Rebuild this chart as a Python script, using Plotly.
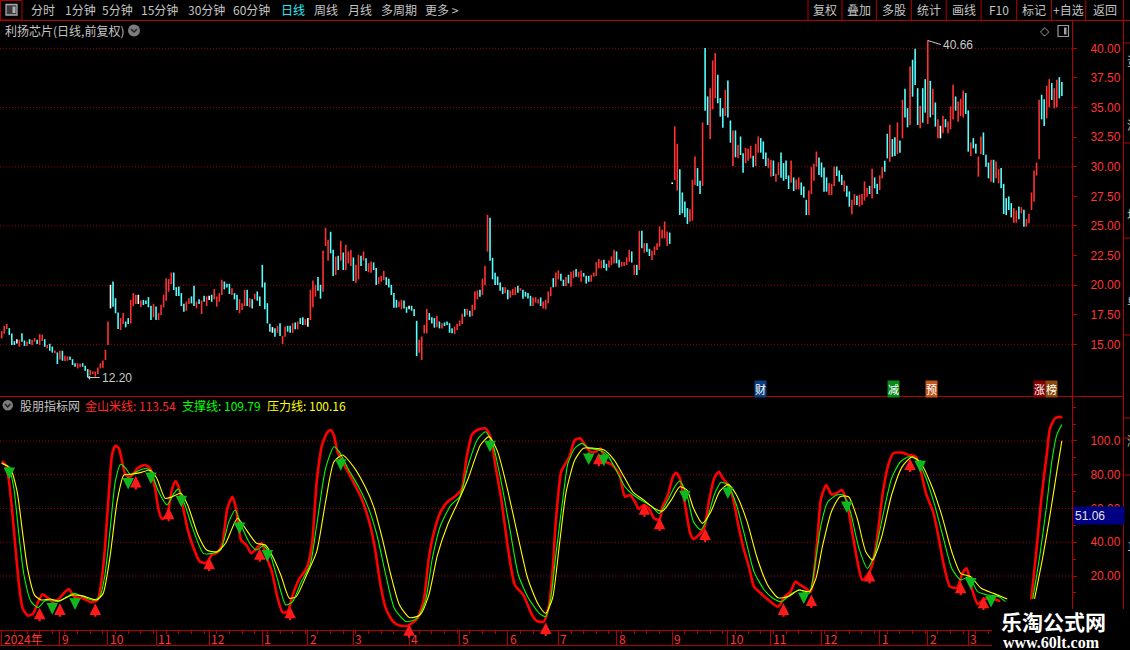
import plotly.graph_objects as go

W, H = 1130, 650

# daily bars of 利扬芯片: low, high and colour (u up / d down / w flat)
bar_lo = [
    15.5, 15.9, 16.3, 15.8, 14.95, 14.95, 15.08, 14.8, 15.23, 14.86,
    14.86, 15.03, 14.94, 15.23, 15.03, 14.94, 15.28, 14.8, 14.66, 14.46,
    14.3, 14.24, 13.34, 13.73, 13.62, 13.59, 13.62, 13.68, 13.26, 13.11,
    12.97, 13.06, 13.11, 12.78, 12.2, 12.41, 12.5, 12.27, 12.5, 12.97,
    13.03, 13.68, 14.94, 18.04, 18.18, 17.62, 16.3, 16.21, 16.72, 16.44,
    16.72, 16.77, 18.24, 18.41, 18.41, 18.13, 18.32, 18.41, 18.13, 17.05,
    17.28, 17.05, 17.05, 17.48, 18.13, 18.69, 19.45, 20.1, 19.59, 19.08,
    19.08, 18.24, 17.76, 17.84, 18.41, 18.46, 18.24, 18.04, 18.41, 17.56,
    18.6, 18.24, 18.74, 18.6, 18.8, 18.18, 18.6, 19.17, 19.65, 19.81,
    19.25, 19.17, 18.8, 17.9, 17.62, 17.9, 18.24, 18.24, 18.13, 18.04,
    18.8, 18.69, 18.24, 19.81, 17.96, 16.77,
    16.07, 15.98, 15.65, 15.98, 15.7, 15.03, 15.65, 16.07, 15.98, 15.98,
    16.27, 16.27, 16.72, 16.63, 16.63, 16.49, 17.05, 18.13, 19.03, 19.53,
    18.86, 19.45, 23.31, 22.07, 22.69, 20.77, 20.86, 21.28, 22.07, 21.28,
    21.28, 21.84, 21.62, 20.35, 20.21, 20.49, 21.62, 22.07, 21.19, 21.08,
    21.05, 21.28, 20.01, 20.1, 20.29, 20.43, 20.01, 19.81, 19.17, 18.1,
    18.1, 18.13, 17.96, 18.04, 17.67, 17.96, 17.84, 17.39, 14.01, 14.3,
    13.68, 15.93, 15.93, 17.05, 16.77, 16.41, 16.44, 16.35, 16.35, 16.55,
    16.63, 15.98, 15.93, 15.87, 16.21, 16.55, 16.72, 17.34, 17.48, 17.34,
    17.39, 17.9, 18.8, 19.03, 19.17, 20.01, 22.83, 22.07, 20.49, 20.01,
    20.01, 19.53, 19.25, 19.31, 18.8, 18.94, 19.17, 19.17, 19.36, 19.53,
    18.86, 19.03, 18.88, 18.24, 18.24, 18.52, 18.46,
    18.24, 18.04, 17.96, 18.46, 19.08, 19.82, 19.87, 20.49, 20.38, 19.93,
    19.93, 20.15, 19.87, 20.58, 20.72, 20.66, 20.29, 20.72, 20.15, 20.29,
    20.29, 20.72, 20.77, 21.42, 21.42, 21.45, 21.22, 21.5, 21.7, 21.84,
    21.84, 21.5, 21.56, 21.62, 21.7, 21.98, 21.9, 20.86, 20.86, 21.28,
    23.11, 22.74, 22.83, 22.46, 22.12, 22.55, 22.97, 23.25, 23.95, 23.95,
    23.31, 23.48, 28.54, 28.88, 27.98, 25.92, 26.07, 25.73, 25.17, 25.36,
    25.45, 28.46, 28.37, 27.7, 28.37, 34.74, 33.53, 32.34, 34.85, 35.78,
    35.36, 34.23, 33.3, 34.29, 34.17, 32.03, 30.06, 30.8, 30.71, 30.99,
    29.5, 30.29, 30.51, 30.71, 29.95, 30.06, 31.19, 31.19, 30.65, 30.06,
    29.87, 29.16, 29.22, 28.74, 29.3, 29.08, 28.82, 28.97, 28.12, 28.66,
    27.95, 28.09, 28.09, 27.61, 27.39, 25.92, 25.92,
    27.7, 28.82, 30.0, 29.3, 29.11, 27.9, 27.9, 27.61, 27.61, 28.37,
    29.22, 28.74, 28.46, 27.9, 27.47, 26.63, 25.98, 26.77, 26.77, 26.63,
    26.77, 27.14, 27.47, 27.7, 27.33, 28.18, 27.7, 28.04, 29.02, 29.58,
    30.71, 30.43, 30.85, 30.91, 31.08, 31.19, 32.4, 34.17, 33.33, 33.53,
    35.92, 36.9, 33.53, 33.25, 33.72, 34.57, 33.61, 34.17, 34.37, 33.39,
    32.4, 32.4, 32.82, 33.33, 32.82, 33.16, 34.0, 34.74, 33.81, 34.29,
    34.17, 34.46, 31.27, 30.91, 31.56, 31.13, 29.16, 31.08, 30.99, 30.0,
    29.02, 28.74, 28.66, 29.02, 28.6, 28.18, 26.01, 25.92, 26.35, 25.73,
    25.28, 25.28, 25.56, 26.07, 24.94, 24.94, 25.22, 26.35, 27.05, 29.25,
    30.63, 34.0, 33.44, 34.09, 35.02, 35.64, 34.93, 35.02, 35.78, 35.97,
]
bar_hi = [
    16.1, 16.55, 16.7, 16.35, 15.9, 15.25, 15.42, 15.37, 15.93, 15.31,
    15.23, 15.42, 15.37, 15.51, 15.37, 15.84, 15.79, 15.42, 14.94, 15.03,
    14.8, 14.46, 14.3, 14.44, 14.44, 14.01, 13.96, 13.96, 13.73, 13.39,
    13.39, 13.34, 13.39, 13.17, 12.89, 12.83, 12.69, 12.69, 13.03, 13.39,
    13.62, 14.52, 16.91, 20.01, 20.29, 18.88, 17.67, 17.2, 17.62, 16.91,
    17.2, 18.74, 19.31, 19.17, 19.17, 18.69, 18.74, 18.69, 18.97, 18.24,
    18.41, 18.18, 17.62, 18.32, 19.17, 20.57, 20.49, 21.05, 21.05, 19.81,
    19.87, 19.31, 18.41, 18.6, 18.88, 19.03, 19.93, 18.6, 18.8, 18.69,
    19.08, 19.03, 19.08, 19.17, 19.65, 19.03, 19.31, 20.43, 20.29, 20.1,
    20.1, 19.73, 19.31, 19.17, 18.8, 18.46, 19.59, 19.59, 18.88, 18.8,
    19.25, 19.45, 19.03, 21.7, 20.21, 18.46,
    16.72, 16.44, 16.35, 16.55, 16.77, 15.7, 16.49, 16.55, 16.55, 16.77,
    16.83, 16.91, 17.2, 17.28, 17.11, 17.2, 19.59, 20.38, 20.01, 20.66,
    20.01, 22.91, 24.83, 23.81, 24.49, 22.97, 22.4, 22.46, 23.73, 22.74,
    23.39, 22.83, 22.97, 22.32, 21.7, 22.54, 22.46, 22.83, 22.26, 21.84,
    21.98, 21.9, 21.42, 20.66, 20.77, 21.19, 20.66, 20.52, 20.01, 19.31,
    18.74, 18.6, 18.74, 18.69, 18.13, 18.24, 18.24, 17.96, 16.97, 15.37,
    15.65, 16.63, 17.98, 17.62, 17.28, 17.2, 17.39, 16.91, 16.77, 16.83,
    16.91, 16.77, 16.35, 16.49, 16.72, 17.0, 17.56, 17.98, 17.98, 17.81,
    18.32, 19.45, 19.53, 19.59, 20.52, 21.62, 25.92, 25.67, 22.29, 21.02,
    20.71, 20.21, 19.81, 19.81, 19.59, 19.53, 19.65, 19.81, 19.93, 19.73,
    19.59, 19.42, 19.31, 19.08, 18.94, 18.97, 18.8,
    18.94, 18.6, 18.75, 19.45, 19.82, 20.58, 21.05, 21.22, 20.94, 20.44,
    20.66, 20.86, 21.11, 21.22, 21.34, 21.11, 21.22, 21.0, 20.77, 20.77,
    20.86, 21.05, 21.93, 22.18, 22.07, 22.12, 21.79, 22.07, 22.41, 22.97,
    22.83, 22.12, 21.96, 21.93, 22.32, 22.97, 22.83, 21.7, 21.7, 24.57,
    24.57, 23.53, 23.53, 23.05, 22.88, 23.25, 23.53, 24.94, 24.66, 25.36,
    24.52, 24.43, 28.66, 33.39, 31.92, 29.78, 27.81, 27.05, 26.49, 26.4,
    28.88, 30.85, 29.87, 28.8, 33.72, 40.0, 35.92, 36.62, 38.96, 39.58,
    37.75, 35.78, 34.93, 36.48, 37.27, 33.89, 33.05, 33.05, 31.84, 32.54,
    31.13, 31.56, 31.5, 31.75, 30.91, 31.92, 32.54, 32.4, 32.12, 31.19,
    30.71, 30.57, 30.51, 29.39, 30.35, 31.19, 30.29, 30.51, 29.25, 30.51,
    29.08, 28.88, 29.08, 28.66, 28.32, 27.19, 27.98,
    29.95, 30.23, 31.27, 30.77, 30.34, 29.92, 29.08, 28.6, 28.54, 30.0,
    30.0, 29.67, 29.3, 28.82, 28.37, 27.9, 27.19, 27.67, 27.53, 27.61,
    27.67, 28.74, 28.18, 28.37, 29.81, 29.08, 28.54, 29.25, 29.95, 30.49,
    32.77, 33.53, 32.32, 32.48, 33.72, 32.2, 35.64, 36.57, 34.93, 38.45,
    39.02, 39.95, 36.62, 35.13, 36.62, 37.38, 40.66, 37.24, 36.57, 35.41,
    34.0, 33.44, 34.29, 34.0, 33.81, 35.07, 36.9, 35.92, 35.5, 35.72,
    36.43, 36.2, 34.74, 32.03, 32.4, 31.92, 30.85, 32.54, 32.88, 30.99,
    30.34, 30.57, 30.57, 30.43, 29.78, 29.87, 28.54, 27.33, 27.47, 26.91,
    26.49, 26.29, 26.63, 26.57, 26.35, 25.56, 26.01, 27.81, 29.67, 30.34,
    35.64, 36.06, 35.69, 36.82, 37.38, 37.05, 36.62, 37.33, 37.55, 37.13,
]
bar_dir = (
    "uuudddwudd" "uduuduudud" "dududuuddd" "uuddduuuuu" "uuuwddduud"
    "duuuwudddd" "uduuuuuudd" "ddduuddudu" "duwduuuudd" "dudduuudud" "uddddd"
    "dwduduuddu" "dudduwuuud" "duuuddudud" "uuuduududu" "udduuudddd"
    "duuddwdddu" "uuudddudud" "ddduuuudud" "uuuduuuddd" "ddduduuudu" "dddduuu"
    "duuuuduudd" "uduuduuddd" "uuuuudduuu" "dduuuududu" "dudduuuuuu"
    "udwuuddddu" "uuddudduuu" "ddduddudud" "duuuduuddd" "uuduuddddu" "duudddu"
    "uuudddduuu" "dddudduudu" "uuududduud" "duddududdu" "ddduddudud"
    "uwuduuuduu" "uddudduudd" "duduuddddd" "uududuuuuu" "udduuduudd"
)
assert len(bar_lo) == len(bar_hi) == len(bar_dir)

price_ticks = [15, 17.5, 20, 22.5, 25, 27.5, 30, 32.5, 35, 37.5, 40]
price_grid = [15, 20, 25, 30, 35, 40]

# month boundaries on the bar index
month_idx = [0, 23, 42, 61, 82, 103, 121, 139, 161, 181, 200, 220, 243, 265, 287, 304, 324, 347, 366, 382]
month_txt = ["2024年", "9", "10", "11", "12", "1", "2", "3", "4", "5", "6", "7", "8", "9", "10", "11", "12", "1", "2", "3"]

# indicator lines (bar index, value)
jsm_pts = [
    (0, 88), (1.6, 85.8), (2.9, 75.9), (4.3, 56), (5.7, 32.4), (7.0, 12.7), (8.3, 0.8), (10.4, -3.5),
    (12.5, -2.1), (14.4, 4.8), (16.1, 9.1), (18.1, 7.2), (20.1, 4.8), (22.1, 5.8), (24.5, 9.7), (26.5, 12.3),
    (28.6, 7.8), (32.0, 6.8), (35.4, 4.4), (37.9, 5.8), (39.4, 16.6), (40.8, 36.4), (42.2, 66), (43.6, 91.7),
    (44.9, 97.2), (46.3, 95.7), (47.6, 87.7), (49.0, 79.8), (51.0, 78.9), (53.7, 83.8), (56.5, 85.8), (58.6, 83.8),
    (60.6, 72), (62.0, 59.1), (63.3, 53.8), (65.3, 56.1), (67.4, 72), (68.7, 76.3), (70.1, 72), (71.5, 62.1),
    (73.4, 48.2), (75.4, 38.4), (78.3, 28.5), (81.0, 27.9), (83.0, 32.4), (85.1, 33.8), (87.1, 38.4), (89.2, 60.1),
    (91.2, 67), (92.6, 60.1), (94.6, 41.3), (96.7, 38.4), (98.7, 33.4), (100.7, 36.4), (102.8, 39.4), (104.8, 30.5),
    (106.8, 22.6), (108.9, 7.8), (111.0, -1.5), (113.0, -1.1), (115.0, 8.7), (117.7, 18.6), (120.5, 24.5),
    (122.6, 38.4), (124.5, 75.9), (126.6, 97.6), (128.7, 105.1), (130.0, 106.5), (131.3, 103.2), (132.7, 93.7),
    (134.7, 87.7), (136.8, 81.8), (138.9, 75.9), (142.2, 66), (145.6, 50.2), (147.5, 36.4), (149.7, 14.7),
    (151.8, 0.8), (154.5, -6.7), (157.2, -9.4), (160.6, -9.4), (164.1, -5.5), (166.7, 4.8), (168.8, 30.5),
    (170.9, 46.3), (173.5, 58.1), (176.2, 64), (179.0, 67), (181.7, 71), (183.7, 89.7), (185.8, 103.6),
    (187.9, 106.5), (191.2, 107.5), (193.3, 101.6), (195.3, 83.8), (197.4, 66), (200.1, 36.4), (202.8, 14.7),
    (206.2, 8.7), (209.6, -3.1), (211.6, -6.7), (214.2, -7.1), (216.3, 2.8), (217.7, 22.6), (219.0, 52.2),
    (221.1, 81.8), (222.5, 85.8), (224.4, 90.7), (226.5, 100.6), (228.6, 101.6), (230.6, 97.6), (232.6, 93.7),
    (234.7, 93.7), (236.7, 95.6), (238.8, 87.7), (241.4, 85.8), (244.2, 79.9), (246.3, 67), (248.3, 68),
    (250.3, 64), (251.7, 59.7), (253.8, 62.1), (255.8, 60.1), (257.8, 54.2), (259.9, 53.2), (261.2, 61.1),
    (263.3, 68), (265.3, 78.9), (266.6, 81.2), (268.0, 77.9), (270.1, 62.1), (272.1, 45.3), (273.4, 41.9),
    (275.5, 44.3), (277.6, 48.2), (279.6, 65), (281.6, 77.9), (283.4, 81.8), (285.0, 77.9), (287.1, 73.9),
    (289.2, 65), (291.1, 50.2), (293.2, 36.4), (295.3, 25.5), (297.3, 13.7), (299.3, 10.7), (301.4, 7.8),
    (304.1, 4.4), (306.8, 1.8), (309.5, 7.8), (311.6, 10.3), (313.7, 16.6), (315.6, 14.7), (317.7, 12.7),
    (319.8, 10.7), (321.1, 22.6), (322.5, 44.3), (323.8, 66), (325.9, 73.9), (327.9, 68.4), (330.0, 69),
    (332.0, 71), (334.0, 64), (336.1, 46.3), (338.1, 29.5), (340.1, 17.6), (342.2, 20.6), (343.6, 24.5),
    (345.6, 38.4), (348.3, 70), (350.4, 85.8), (352.4, 92.7), (355.9, 93.1), (358.5, 91.7), (361.3, 90.7),
    (363.3, 81.8), (365.3, 69), (368.1, 58.1), (370.1, 44.3), (372.2, 27.5), (374.8, 13.7), (377.6, 13.1),
    (379.7, 21.6), (381.4, 24.5), (383.0, 14.7), (384.4, 7.8), (385.7, 3.4), (388.5, 6.5), (391.6, 6.5),
    (394.6, 5), (None, None), (406.9, 6.2), (408.9, 34.4), (410.9, 66), (413.0, 91.7), (414.3, 107.5),
    (416.3, 113.4), (418.4, 114.4), (419, 113.54),
]
zc_pts = [
    (0, 86.8), (2.7, 84.8), (4.8, 72), (6.8, 44.3), (8.8, 20.6), (11.6, 4.8), (14.3, 1.3), (17.0, 5.2),
    (19.8, 5.8), (22.4, 4.8), (25.9, 7.8), (28.6, 9.7), (32.0, 7.8), (36.1, 5.6), (38.8, 7.8), (40.8, 20.6),
    (42.9, 48.2), (44.9, 75.9), (47.0, 86.2), (49.0, 83.8), (51.0, 79.9), (53.8, 82.2), (57.1, 83.8),
    (59.2, 80.8), (62.0, 70), (65.3, 62.1), (68.1, 69), (69.8, 71.6), (72.2, 63.1), (75.5, 48.2), (79.7, 33.4),
    (83.0, 33.4), (86.5, 35.4), (89.8, 52.2), (92.3, 59.1), (94.6, 50.2), (98.0, 39.4), (100.7, 35.4),
    (103.5, 38), (106.2, 32.4), (108.9, 18.6), (112.3, 2.8), (115.0, 4.8), (118.4, 16.6), (121.9, 26.5),
    (124.5, 50.2), (128.0, 83.8), (131.3, 96.6), (133.4, 93.7), (136.8, 83.8), (141.0, 73), (145.0, 60.1),
    (148.3, 44.3), (151.8, 20.6), (155.2, 0.8), (159.9, -7.1), (164.1, -5.1), (167.4, 4.8), (170.2, 30.5),
    (173.5, 50.2), (177.6, 62.1), (181.0, 67), (184.4, 85.8), (187.9, 100.6), (191.2, 105.5), (194.0, 98.6),
    (197.4, 75.9), (200.8, 48.2), (204.2, 20.6), (208.2, 6.8), (212.4, -2), (215.0, -4.1), (217.0, 6.8),
    (219.0, 32.4), (221.8, 66), (223.8, 86.8), (226.5, 95.7), (229.3, 98.6), (232.0, 95.7), (236.0, 94.7),
    (239.4, 91.7), (242.8, 82.8), (246.3, 72.9), (249.6, 68), (253.8, 64), (257.1, 61.1), (259.9, 57.1),
    (263.3, 65), (266.0, 72.9), (268.0, 76.3), (270.8, 68), (273.4, 52.2), (276.2, 47.3), (278.9, 54.2),
    (281.6, 68), (284.3, 75.5), (287.1, 73.9), (290.4, 62.1), (293.9, 42.3), (297.3, 22.6), (301.4, 11.7),
    (304.8, 6.8), (308.2, 4.8), (312.3, 9.7), (315.6, 11.7), (319.1, 9.7), (321.8, 30.5), (323.8, 50.2),
    (326.5, 64), (330.0, 68), (332.6, 68), (335.4, 58.1), (338.8, 36.4), (342.2, 24.5), (344.9, 32.4),
    (348.3, 56.1), (351.7, 77.9), (355.2, 87.7), (358.5, 90.7), (362.0, 88.7), (365.3, 77.9), (368.7, 62.1),
    (372.2, 42.3), (375.5, 24.5), (379.0, 17.6), (382.3, 19.6), (385.7, 10.7), (389.8, 8.7), (393.9, 7.8),
    (396.7, 4.8), (None, None), (407.5, 6.4), (410.3, 32.4), (413.0, 62.1), (415.0, 87.7), (417.0, 103.6),
    (419, 109.79),
]
ylx_pts = [
    (0, 86.8), (3.4, 83.8), (6.1, 70), (8.2, 46.3), (10.2, 24.5), (13.0, 8.7), (15.6, 5.8), (19.1, 6.4),
    (22.4, 5.2), (27.9, 8.7), (32.0, 8.2), (37.5, 5.8), (40.1, 9.7), (42.9, 32.4), (45.6, 64), (48.3, 79.9),
    (51.0, 80.3), (55.2, 81.4), (58.5, 82.8), (61.3, 77.9), (64.6, 66), (67.4, 67), (70.8, 69), (73.5, 62.1),
    (77.6, 44.3), (81.0, 35.4), (85.1, 34.4), (88.5, 39.4), (93.2, 54.2), (96.7, 47.3), (100.7, 39.4),
    (104.2, 38.4), (106.8, 32.4), (110.3, 20.6), (113.7, 6.8), (116.4, 7.8), (120.5, 20.6), (124.5, 34.4),
    (128.0, 64), (131.3, 87.7), (134.7, 91.7), (139.5, 83.8), (143.6, 73), (147.0, 61.1), (150.4, 42.3),
    (153.8, 20.6), (157.2, 2.8), (161.3, -4.7), (165.3, -3.1), (168.8, 8.7), (172.2, 32.4), (176.2, 50.2),
    (180.4, 64), (184.4, 77.9), (189.2, 97.6), (192.6, 102.6), (196.0, 93.7), (200.1, 70), (204.2, 42.3),
    (207.5, 20.6), (208.8, 14.7), (212.2, 2.8), (215.0, -2.1), (217.7, 6.8), (220.4, 38.4), (223.1, 70),
    (226.5, 88.7), (229.9, 95.7), (234.0, 95.7), (238.1, 94.7), (242.1, 88.7), (246.3, 77.9), (249.6, 69.6),
    (253.8, 65), (257.8, 60.1), (261.2, 58.5), (264.6, 65), (268.0, 72.9), (270.8, 71), (273.4, 60.1),
    (276.9, 51.2), (280.3, 58.1), (283.7, 70), (287.1, 74.3), (290.4, 68), (294.6, 52.2), (298.6, 30.5),
    (302.7, 14.7), (306.8, 7.1), (310.9, 7.8), (315.0, 11.7), (319.1, 10.7), (321.8, 18.6), (324.5, 38.4),
    (327.9, 58.1), (331.3, 67), (334.7, 67), (338.1, 54.2), (341.5, 34.4), (344.2, 29.5), (347.6, 42.3),
    (351.7, 68), (355.9, 84.8), (359.9, 90.7), (363.3, 86.8), (367.4, 73.9), (371.5, 56.1), (375.5, 34.4),
    (379.0, 21.6), (383.0, 19.6), (387.1, 12.7), (392.0, 9.7), (397.4, 6.4), (None, None), (408.2, 6.4),
    (411.6, 32.4), (414.3, 56.1), (417.0, 81.8), (419, 100.16),
]

# signal arrows (bar index, line value)
buy_pts = [(15, 1.2), (23, 3.8), (37, 3.8), (53, 79.3), (66, 60.5), (82, 30.9), (102, 36.4), (114, 1.8),
           (161, -8.6), (215, -7.5), (236, 93.1), (254, 63.1), (260, 54.6), (278, 48.2), (309, 3.8),
           (320, 9.1), (343, 23.6), (359, 89.7), (379, 16.6), (388, 7.8)]
sell_pts = [(3, 85.8), (20, 5.4), (29, 8.2), (50, 79.5), (59, 82.8), (71, 69), (94, 53.2), (105, 36.8),
            (134, 90.7), (193, 101.6), (232, 94.1), (238, 93.3), (270, 71.9), (287, 73.9), (317, 11.7),
            (334, 65.6), (363, 89.7), (383, 20.2), (391, 9.7)]

# event tags under the price bars (bar index, text, background)
tags = [(300, "财", "#0d3f7e"), (352.3, "减", "#0a8a18"), (367.3, "预", "#c0571c"),
        (410, "涨", "#860000"), (414.7, "榜", "#8a4a0e")]

tool_left = [("分时", 28.5), ("1分钟", 62.5), ("5分钟", 100), ("15分钟", 139), ("30分钟", 186),
             ("60分钟", 231), ("日线", 278.5), ("周线", 312), ("月线", 346), ("多周期", 378.5), ("更多 >", 422.5)]
tool_right = ["复权", "叠加", "多股", "统计", "画线", "F10", "标记", "+自选", "返回"]
tool_sep = [808, 842, 876.4, 911.3, 946.2, 981.1, 1016.7, 1051.6, 1085.8, 1123.6]

RED = "#b40000"
LBL = "#ff3434"
GRAY = "#c4c4c4"
CJK = "Noto Sans CJK SC"
XR = [-0.67, 423.0]


def px(x):
    return x / W


def py(y):
    return 1 - y / H


fig = go.Figure()

for k, col in (("u", "#ff3232"), ("d", "#54ffff"), ("w", "#ffffff")):
    xs, ys = [], []
    for i, (lo, hi, d) in enumerate(zip(bar_lo, bar_hi, bar_dir)):
        if d == k:
            xs += [i, i, None]
            ys += [lo, hi + 0.02, None]
    fig.add_trace(go.Scatter(x=xs, y=ys, mode="lines", line=dict(color=col, width=1.6),
                             hoverinfo="skip", xaxis="x", yaxis="y"))

for pts, col, wd in ((jsm_pts, "#ff0000", 2.6), (zc_pts, "#00ff00", 1.1), (ylx_pts, "#ffff00", 1.1)):
    fig.add_trace(go.Scatter(x=[p[0] for p in pts], y=[p[1] for p in pts], mode="lines",
                             line=dict(color=col, width=wd, shape="spline", smoothing=0.6),
                             connectgaps=False, hoverinfo="skip", xaxis="x2", yaxis="y2"))

ann = []
for i, v in buy_pts:
    ann.append(dict(x=i, y=v, xref="x2", yref="y2", text="", showarrow=True, ax=0, ay=15,
                    arrowhead=2, arrowsize=1.05, arrowwidth=2.2, arrowcolor="#ff1a1a"))
for i, v in sell_pts:
    ann.append(dict(x=i, y=v, xref="x2", yref="y2", text="", showarrow=True, ax=0, ay=-14, yshift=-14,
                    arrowhead=2, arrowsize=1.05, arrowwidth=2.2, arrowcolor="#10b820"))

# toolbar
for t, x in tool_left:
    ann.append(dict(x=px(x), y=py(10), xref="paper", yref="paper", text=t, showarrow=False,
                    xanchor="left", yanchor="middle",
                    font=dict(family=CJK, size=12, color="#30e8f0" if t == "日线" else GRAY)))
for t, a, b in zip(tool_right, tool_sep[:-1], tool_sep[1:]):
    ann.append(dict(x=px((a + b) / 2), y=py(10), xref="paper", yref="paper", text=t, showarrow=False,
                    xanchor="center", yanchor="middle", font=dict(family=CJK, size=12, color=GRAY)))

ann.append(dict(x=px(3), y=py(30.5), xref="paper", yref="paper", text="利扬芯片(日线,前复权)",
                showarrow=False, xanchor="left", yanchor="middle", font=dict(family=CJK, size=12, color=GRAY)))
ann.append(dict(x=px(1044.5), y=py(31), xref="paper", yref="paper", text="◇", showarrow=False,
                xanchor="center", yanchor="middle", font=dict(family="DejaVu Sans", size=12, color="#9a9a9a")))

# indicator title
hdr = [("股朋指标网", 18, GRAY), ("金山米线: 113.54", 83, "#ff2828"),
       ("支撑线: 109.79", 180, "#00ff00"), ("压力线: 100.16", 265, "#ffff00")]
for t, x, c in hdr:
    ann.append(dict(x=px(x), y=py(405.5), xref="paper", yref="paper", text=t, showarrow=False,
                    xanchor="left", yanchor="middle", font=dict(family=CJK, size=12, color=c)))

# low / high marks
ann.append(dict(x=34, y=12.2, xref="x", yref="y", text="12.20", showarrow=True, ax=12, ay=0,
                xanchor="left", yanchor="middle", arrowhead=1, arrowsize=0.8, arrowwidth=1,
                arrowcolor="#c8c8c8", font=dict(family="Liberation Sans", size=12, color="#c8c8c8")))
ann.append(dict(x=366, y=40.66, xref="x", yref="y", text="40.66", showarrow=True, ax=13, ay=4,
                xanchor="left", yanchor="middle", arrowhead=0, arrowwidth=1,
                arrowcolor="#c8c8c8", font=dict(family="Liberation Sans", size=12, color="#c8c8c8")))

for i, t, bg in tags:
    ann.append(dict(x=i, y=py(388.5), xref="x", yref="paper", text=t, showarrow=False,
                    xanchor="center", yanchor="middle", bgcolor=bg, borderpad=0,
                    font=dict(family=CJK, size=11, color="#ffffff")))

# month labels
for i, t in zip(month_idx, month_txt):
    ann.append(dict(x=i, y=py(638), xref="x2", yref="paper", text=t, showarrow=False,
                    xanchor="left", yanchor="middle", xshift=0,
                    font=dict(family=CJK, size=12, color=LBL)))

# cursor value box
ann.append(dict(x=px(1073), y=py(515), xref="paper", yref="paper", text="51.06", showarrow=False,
                xanchor="left", yanchor="middle", align="left", width=48, height=15,
                bgcolor="#000082", font=dict(family="Liberation Sans", size=12, color="#e0e0e0")))

# side panel, only its left edge is inside the window
for y, t in ((60, "资"), (125, "流"), (215, "块"), (300, "单"), (440, "涨"), (545, "1")):
    ann.append(dict(x=px(1124.5), y=py(y), xref="paper", yref="paper", text=t, showarrow=False,
                    xanchor="left", yanchor="middle", font=dict(family=CJK, size=12, color="#bdbdbd")))

# watermark
ann.append(dict(x=px(999), y=py(620.5), xref="paper", yref="paper", text="<b>乐淘公式网</b>", showarrow=False,
                xanchor="left", yanchor="middle", font=dict(family=CJK, size=21, color="#ffffff")))
ann.append(dict(x=px(1001), y=py(642.5), xref="paper", yref="paper", text="<b>www.60lt.com</b>", showarrow=False,
                xanchor="left", yanchor="middle", font=dict(family="Liberation Serif", size=16, color="#ffffff")))


def hline(y, x0=0, x1=W, color=RED, dash=None):
    return dict(type="line", xref="paper", yref="paper", x0=px(x0), x1=px(x1), y0=py(y), y1=py(y),
                line=dict(color=color, width=1, dash=dash))


def vline(x, y0, y1, color=RED):
    return dict(type="line", xref="paper", yref="paper", x0=px(x), x1=px(x), y0=py(y0), y1=py(y1),
                line=dict(color=color, width=1))


shapes = [hline(20.5), hline(396.5, 0, 1123), hline(630.5, 0, 1123), hline(645.5),
          vline(1072.5, 20, 645), vline(1123.5, 20, 650),
          dict(type="rect", xref="paper", yref="paper", x0=px(0.5), x1=px(22), y0=py(0.5), y1=py(20),
               line=dict(color=RED, width=1)),
          dict(type="rect", xref="paper", yref="paper", x0=px(6), x1=px(17), y0=py(4.5), y1=py(15),
               line=dict(color="#a8a8a8", width=1.3), fillcolor="#3a3a3a"),
          dict(type="rect", xref="paper", yref="paper", x0=px(12.5), x1=px(15.5), y0=py(6.5), y1=py(13),
               line=dict(width=0), fillcolor="#b0b0b0"),
          dict(type="rect", xref="paper", yref="paper", x0=px(1058), x1=px(1068.5), y0=py(25.5), y1=py(36.5),
               line=dict(color="#9a9a9a", width=1.2), fillcolor="#000000"),
          dict(type="rect", xref="paper", yref="paper", x0=px(1064), x1=px(1066.5), y0=py(27.5), y1=py(34.5),
               line=dict(width=0), fillcolor="#a0a0a0"),
          dict(type="circle", xref="paper", yref="paper", x0=px(128), x1=px(140), y0=py(24.5), y1=py(36.5),
               line=dict(width=0), fillcolor="#7c7c7c"),
          dict(type="path", xref="paper", yref="paper",
               path=f"M{px(131)},{py(29)} L{px(134)},{py(32)} L{px(137)},{py(29)}",
               line=dict(color="#202020", width=1.5)),
          dict(type="circle", xref="paper", yref="paper", x0=px(2.5), x1=px(13), y0=py(400), y1=py(410.5),
               line=dict(width=0), fillcolor="#7c7c7c"),
          dict(type="path", xref="paper", yref="paper",
               path=f"M{px(5)},{py(404)} L{px(7.7)},{py(407)} L{px(10.4)},{py(404)}",
               line=dict(color="#202020", width=1.5)),
          dict(type="rect", xref="paper", yref="paper", x0=px(992), x1=px(W), y0=py(609), y1=py(H),
               line=dict(width=0), fillcolor="#000000", layer="above")]
for x in tool_sep:
    shapes.append(vline(x, 0, 20))
for y in (43, 143, 238, 335, 418, 438, 475):
    shapes.append(hline(y, 1123, W))
for v in price_grid:
    shapes.append(dict(type="line", xref="x domain", yref="y", x0=0, x1=1, y0=v, y1=v, layer="below",
                       line=dict(color="#a00000", width=1, dash="1px,2px")))
for v in (20, 40, 60, 80, 100):
    shapes.append(dict(type="line", xref="x2 domain", yref="y2", x0=0, x1=1, y0=v, y1=v, layer="below",
                       line=dict(color="#a00000", width=1, dash="1px,2px")))

axis_font = dict(family="Liberation Sans", size=12, color=LBL)
fig.update_layout(
    width=W, height=H, margin=dict(l=0, r=0, t=0, b=0),
    paper_bgcolor="#000000", plot_bgcolor="#000000", showlegend=False, hovermode=False,
    xaxis=dict(domain=[0, px(1072)], range=XR, visible=False),
    xaxis2=dict(domain=[0, px(1072)], range=XR, anchor="y2", showgrid=False, zeroline=False,
                showticklabels=False, showline=False, tickmode="array", tickvals=month_idx,
                ticks="outside", ticklen=14, tickwidth=1, tickcolor=RED,
                minor=dict(ticks="outside", ticklen=3, tickwidth=1, tickcolor=RED,
                           tickmode="linear", tick0=0, dtick=5, showgrid=False)),
    yaxis=dict(domain=[py(396), py(21)], range=[10.64, 42.31], side="right", anchor="x",
               tickmode="array", tickvals=price_ticks, ticktext=[f"{v:.2f}" for v in price_ticks],
               ticks="outside", ticklen=4, tickcolor=RED, tickfont=axis_font, ticklabelstandoff=11,
               showgrid=False, zeroline=False, showline=False),
    yaxis2=dict(domain=[py(630), py(397)], range=[-12.0, 126.07], side="right", anchor="x2",
                tickmode="array", tickvals=[20, 40, 60, 80, 100],
                ticktext=["20.00", "40.00", "60.00", "80.00", "100.0"],
                ticks="outside", ticklen=4, tickcolor=RED, tickfont=axis_font, ticklabelstandoff=11,
                minor=dict(ticks="outside", ticklen=3, tickcolor=RED, dtick=10),
                showgrid=False, zeroline=False, showline=False),
    annotations=ann, shapes=shapes,
)

fig.write_html("out.html", config={"displayModeBar": False},
               post_script="document.body.style.margin='0';document.body.style.overflow='hidden';")
